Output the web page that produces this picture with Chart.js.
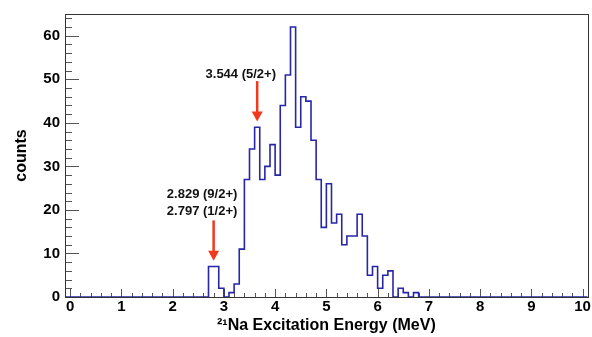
<!DOCTYPE html>
<html lang="en">
<head>
<meta charset="UTF-8">
<title>21Na Excitation Energy</title>
<script src="https://cdn.jsdelivr.net/npm/chart.js"></script>
<style>
  html, body { margin: 0; padding: 0; background: #fff; }
</style>
</head>
<body>
<canvas id="exChart" width="592" height="337"></canvas>
<script>
// histogram binning (MeV)
const binStart = 2.7;
const binWidth = 0.1;
// counts per 0.1 MeV bin from 2.7 MeV on; every other bin is empty
const counts = [7, 7, 2, 0, 1, 3, 11, 27, 34, 39,
                27, 30, 35, 28, 44, 51, 62, 39, 46, 45,
                36, 27, 16, 26, 17, 19, 12, 14, 14, 19,
                14, 5, 7, 2, 5, 6, 0, 2, 1, 0, 1];
const xRange = [-0.1, 10.1];
const yRange = [0, 65];
const xTicks = [0, 1, 2, 3, 4, 5, 6, 7, 8, 9, 10];
const yTicks = [0, 10, 20, 30, 40, 50, 60];
const xMinorStep = 0.2;
const yMinorStep = 2;

// level labels + arrows (data coordinates)
const levels = [
  { text: ['3.544 (5/2+)'], tx: 3.33, ty: 51.2, ax: 3.65, from: 49.6, to: 40.3 },
  { text: ['2.829 (9/2+)', '2.797 (1/2+)'], tx: 2.575, ty: 23.6, ax: 2.8, from: 17.6, to: 8.3 }
];

// histogram outline as a stepped line through the bin edges
const points = [{ x: xRange[0], y: 0 }];
counts.forEach((c, i) => points.push({ x: +(binStart + i * binWidth).toFixed(2), y: c }));
points.push({ x: +(binStart + counts.length * binWidth).toFixed(2), y: 0 });
points.push({ x: xRange[1], y: 0 });

const FONT = '"Liberation Sans", Arial, Helvetica, sans-serif';

// ROOT-like frame with inward ticks, and the level annotations
const rootFrame = {
  id: 'rootFrame',
  beforeDatasetsDraw(chart) {
    const { ctx, chartArea: a, scales: { x, y } } = chart;
    ctx.save();
    ctx.strokeStyle = '#555';
    ctx.lineWidth = 1;
    ctx.beginPath();
    for (let v = 0; v <= 10.0001; v += xMinorStep) {
      const px = Math.round(x.getPixelForValue(v)) + 0.5;
      const major = Math.abs(v - Math.round(v)) < 1e-6;
      ctx.moveTo(px, a.bottom);
      ctx.lineTo(px, a.bottom - (major ? 8 : 4));
    }
    for (let v = 0; v <= yRange[1]; v += yMinorStep) {
      const py = Math.round(y.getPixelForValue(v)) + 0.5;
      const major = v % 10 === 0;
      ctx.moveTo(a.left, py);
      ctx.lineTo(a.left + (major ? 14 : 7), py);
    }
    ctx.stroke();
    ctx.strokeStyle = '#333';
    ctx.strokeRect(Math.round(a.left) + 0.5, Math.round(a.top) + 0.5,
                   Math.round(a.right - a.left), Math.round(a.bottom - a.top));
    ctx.restore();
  },
  afterDatasetsDraw(chart) {
    const { ctx, scales: { x, y } } = chart;
    ctx.save();
    ctx.font = 'bold 13px ' + FONT;
    ctx.fillStyle = '#111';
    ctx.textAlign = 'center';
    ctx.textBaseline = 'middle';
    levels.forEach(l => {
      const tx = x.getPixelForValue(l.tx);
      let ty = y.getPixelForValue(l.ty);
      l.text.forEach(t => { ctx.fillText(t, tx, ty); ty += 17; });
      const ax = x.getPixelForValue(l.ax);
      const y0 = y.getPixelForValue(l.from);
      const y1 = y.getPixelForValue(l.to);
      ctx.strokeStyle = '#f0391d';
      ctx.fillStyle = '#f0391d';
      ctx.lineWidth = 2.5;
      ctx.beginPath();
      ctx.moveTo(ax, y0);
      ctx.lineTo(ax, y1 - 8);
      ctx.stroke();
      ctx.beginPath();
      ctx.moveTo(ax - 5.5, y1 - 10);
      ctx.lineTo(ax + 5.5, y1 - 10);
      ctx.lineTo(ax, y1);
      ctx.closePath();
      ctx.fill();
      ctx.fillStyle = '#111';
    });
    ctx.restore();
  }
};

const exChart = new Chart(document.getElementById('exChart'), {
  type: 'line',
  data: {
    datasets: [{
      data: points,
      stepped: true,
      borderColor: '#2626a6',
      borderWidth: 1.6,
      pointRadius: 0,
      fill: false
    }]
  },
  options: {
    responsive: false,
    animation: false,
    devicePixelRatio: 1,
    layout: { padding: { top: 11, right: 4, left: 0, bottom: 0 } },
    plugins: { legend: { display: false }, tooltip: { enabled: false } },
    scales: {
      x: {
        type: 'linear',
        min: xRange[0],
        max: xRange[1],
        grid: { display: false, drawTicks: false },
        border: { display: false },
        afterBuildTicks: s => { s.ticks = xTicks.map(v => ({ value: v })); },
        afterFit: s => { s.height = 40; },
        ticks: { color: '#000', font: { family: FONT, size: 15, weight: 'bold' }, padding: 1, maxRotation: 0, autoSkip: false },
        title: { display: true, text: '²¹Na Excitation Energy (MeV)', color: '#000',
                 font: { family: FONT, size: 16, weight: 'bold' }, padding: { top: 0, bottom: 2 } }
      },
      y: {
        min: yRange[0],
        max: yRange[1],
        grid: { display: false, drawTicks: false },
        border: { display: false },
        afterBuildTicks: s => { s.ticks = yTicks.map(v => ({ value: v })); },
        afterFit: s => { s.width = 65; },
        ticks: { color: '#000', font: { family: FONT, size: 15, weight: 'bold' }, padding: 5 },
        title: { display: true, text: 'counts', color: '#000',
                 font: { family: FONT, size: 16, weight: 'bold' }, padding: { top: 12, bottom: 0 } }
      }
    }
  },
  plugins: [rootFrame]
});
</script>
</body>
</html>
